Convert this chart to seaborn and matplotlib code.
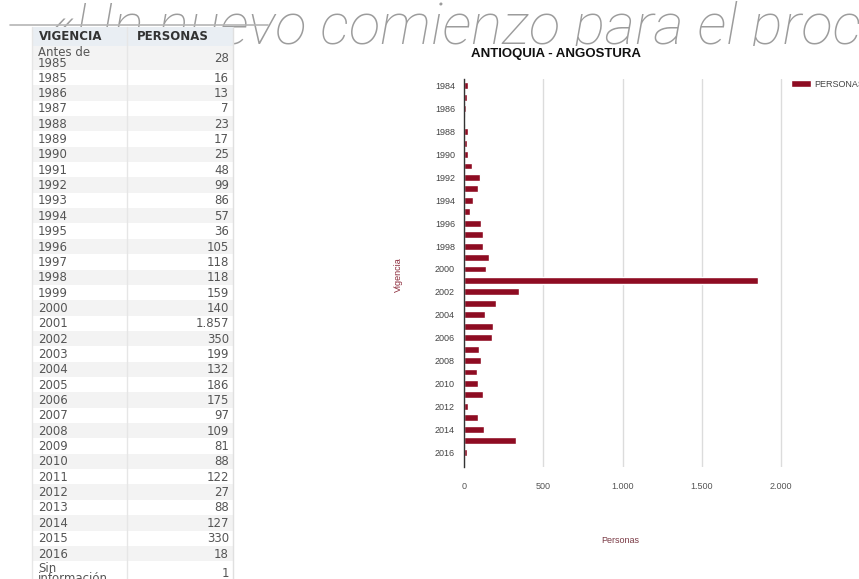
import matplotlib
matplotlib.use("Agg")
import matplotlib.pyplot as plt
import seaborn as sns
import pandas as pd
from matplotlib.patches import Rectangle

# ---------------- data ----------------
table_labels = ["Antes de\n1985", "1985", "1986", "1987", "1988", "1989", "1990",
                "1991", "1992", "1993", "1994", "1995", "1996", "1997", "1998",
                "1999", "2000", "2001", "2002", "2003", "2004", "2005", "2006",
                "2007", "2008", "2009", "2010", "2011", "2012", "2013", "2014",
                "2015", "2016", "Sin\ninformación"]
table_values = ["28", "16", "13", "7", "23", "17", "25", "48", "99", "86", "57",
                "36", "105", "118", "118", "159", "140", "1.857", "350", "199",
                "132", "186", "175", "97", "109", "81", "88", "122", "27", "88",
                "127", "330", "18", "1"]
table_header = ["VIGENCIA", "PERSONAS"]

chart_years = ["1984", "1985", "1986", "1987", "1988", "1989", "1990", "1991",
               "1992", "1993", "1994", "1995", "1996", "1997", "1998", "1999",
               "2000", "2001", "2002", "2003", "2004", "2005", "2006", "2007",
               "2008", "2009", "2010", "2011", "2012", "2013", "2014", "2015",
               "2016"]
chart_values = [28, 16, 13, 7, 23, 17, 25, 48, 99, 86, 57, 36, 105, 118, 118,
                159, 140, 1857, 350, 199, 132, 186, 175, 97, 109, 81, 88, 122,
                27, 88, 127, 330, 18]
x_ticks = [0, 500, 1000, 1500, 2000]
x_tick_labels = ["0", "500", "1.000", "1.500", "2.000"]
chart_title = "ANTIOQUIA - ANGOSTURA"
series_name = "PERSONAS"
watermark = "«Un nuevo comienzo para el proceso"

# ---------------- style ----------------
sns.set_style("white")
NARROW = ["Liberation Sans Narrow", "Liberation Sans", "DejaVu Sans"]
plt.rcParams["font.family"] = ["DejaVu Sans"]

W, H = 859, 579
fig = plt.figure(figsize=(W / 100, H / 100), dpi=100)
fig.patch.set_facecolor("white")

# background layer in pixel coordinates
bg = fig.add_axes([0, 0, 1, 1], zorder=0)
bg.set_xlim(0, W)
bg.set_ylim(H, 0)
bg.axis("off")

bg.text(50, 44, watermark, fontsize=42, family=["Roboto", "DejaVu Sans"],
        style="italic", weight="light", color="#9c9c9c", ha="left",
        va="baseline", zorder=1)
bg.plot([10, 268], [25, 25], color="#b5b5b5", lw=1.2, zorder=1)
bg.add_patch(Rectangle((0, 45.5), W, H, fc="white", ec="none", zorder=2))

# ---------------- table ----------------
tx0, tx1, tdiv = 32, 233, 127
FS = 8.5
bg.add_patch(Rectangle((tx0, 27), tx1 - tx0, 18.5, fc="#e9eef3", ec="none", zorder=3))
bg.text(39, 36.5, table_header[0], fontsize=FS, weight="bold", color="#333333",
        ha="left", va="center", zorder=5)
bg.text(137, 36.5, table_header[1], fontsize=FS, weight="bold", color="#333333",
        ha="left", va="center", zorder=5)

n_rows = len(table_labels)
row_tops = [45.5] + [70.0 + (i - 1) * 15.35 for i in range(1, n_rows)]
row_bottoms = row_tops[1:] + [row_tops[-1] + 31]
for i, (lab, val) in enumerate(zip(table_labels, table_values)):
    top, bot = row_tops[i], row_bottoms[i]
    fc = "#f3f3f3" if i % 2 == 0 else "white"
    bg.add_patch(Rectangle((tx0, top), tx1 - tx0, bot - top, fc=fc, ec="none", zorder=3))
    cy = (top + bot) / 2 + 0.5
    if i == n_rows - 1:
        cy = top + 12.5
    bg.text(38, cy, lab, fontsize=FS, color="#555555", ha="left", va="center",
            linespacing=0.75, zorder=5)
    bg.text(229, cy, val, fontsize=FS, color="#555555", ha="right", va="center",
            zorder=5)
for xv, col in [(tx0, "#e6e6e6"), (tdiv, "#e6e6e6"), (tx1, "#e0e0e0")]:
    bg.plot([xv, xv], [27, H], color=col, lw=1, zorder=4)

# ---------------- chart ----------------
ax = fig.add_axes([464 / W, 1 - 467 / H, 325 / W, 388 / H], zorder=2)
df = pd.DataFrame({"Vigencia": chart_years, "Personas": chart_values})
sns.barplot(data=df, x="Personas", y="Vigencia", orient="h", color="#8e0c22",
            saturation=1, width=0.6, label=series_name, ax=ax)
if ax.get_legend() is not None:
    ax.get_legend().remove()

ax.set_xlim(0, 2050)
ax.set_ylim(33.3, -0.6)
ax.set_xticks(x_ticks)
ax.set_xticklabels(x_tick_labels, fontsize=6.5, color="#555555", family=NARROW)
ax.set_yticks(list(range(0, len(chart_years), 2)))
ax.set_yticklabels([chart_years[i] for i in range(0, len(chart_years), 2)],
                   fontsize=6.5, color="#444444", family=NARROW)
ax.tick_params(axis="both", length=0)
ax.tick_params(axis="x", pad=11)
ax.tick_params(axis="y", pad=6.5)
ax.grid(axis="x", color="#dcdcdc", lw=1)
ax.grid(axis="y", visible=False)
ax.set_axisbelow(True)
for s in ["top", "right", "bottom"]:
    ax.spines[s].set_visible(False)
ax.spines["left"].set_color("#333333")
ax.spines["left"].set_linewidth(1)

ax.set_ylabel("Vigencia", fontsize=6.5, color="#8b2a3a", family=NARROW)
ax.yaxis.set_label_coords(-0.188, 0.495)
ax.set_xlabel("Personas", fontsize=6.5, color="#7a3a45", family=NARROW)
ax.xaxis.set_label_coords(0.48, -0.178)

fig.text(556 / W, 1 - 54 / H, chart_title, ha="center", va="center",
         weight="bold", fontsize=9.5, family=NARROW, color="#111111")

handles, labels = ax.get_legend_handles_labels()
fig.legend(handles[:1], labels[:1], loc="upper left",
           bbox_to_anchor=(791 / W, 1 - 80 / H), frameon=False,
           prop={"family": NARROW, "size": 6.5}, labelcolor="#444444",
           handlelength=2.2, handleheight=0.8, borderpad=0, borderaxespad=0,
           handletextpad=0.4)

fig.savefig("out.png", dpi=100, facecolor="white")
